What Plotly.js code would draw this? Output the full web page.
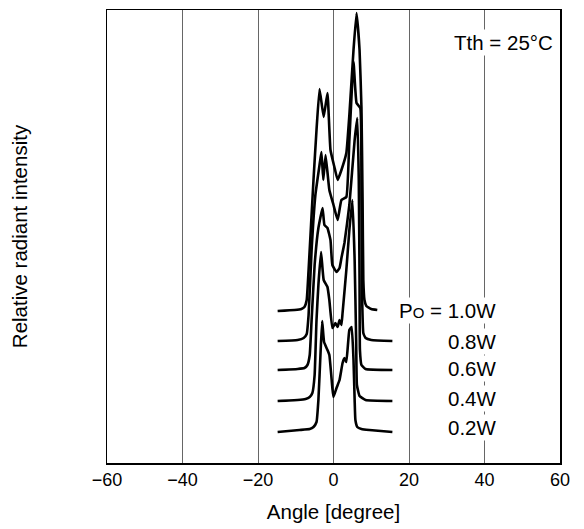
<!DOCTYPE html>
<html>
<head>
<meta charset="utf-8">
<script src="https://cdn.plot.ly/plotly-3.0.1.min.js"></script>
<style>html,body{margin:0;padding:0;background:#fff;}#chart{width:584px;height:529px;}</style>
</head>
<body>
<div id="chart"></div>
<script>
// Angle [degree] and stacked relative intensity (arbitrary units, offset per power level)
const angle10 = [-14.8,-10.3,-8.5,-7.7,-7.1,-6.6,-5.3,-4.5,-3.7,-2.6,-1.6,-0.8,0.3,1.1,2.1,3.4,4.2,5.3,6.1,6.9,7.4,7.7,7.9,8.2,8.7,10.0,11.6];
const inten10 = [152,153,154,156,163,193,283,333,374,346,370,313,295,283,293,310,348,413,450,413,356,263,183,163,157,154,153];

const angle08 = [-14.8,-9.5,-7.9,-7.1,-6.6,-5.8,-4.8,-3.7,-3.2,-2.7,-2.1,-1.1,0,1.1,2.1,3.4,4.2,5.3,6.1,7.1,7.4,7.6,7.9,8.5,10.0,15.6];
const inten08 = [122,123,125,129,148,213,268,298,311,283,308,273,258,243,263,266,323,401,360,355,263,163,130,125,123,122];

const angle06 = [-14.8,-9.5,-7.7,-6.9,-6.3,-5.8,-5.0,-4.0,-2.9,-2.4,-1.6,-0.8,-0.3,0.8,1.6,2.1,2.9,4.2,5.6,6.3,6.7,6.9,7.0,7.4,8.5,15.6];
const inten06 = [93,94,95,98,108,143,198,235,255,238,235,223,198,191,195,205,220,258,323,345,283,183,113,98,94,93];

const angle04 = [-14.8,-9.5,-7.4,-6.3,-5.6,-5.0,-4.5,-4.0,-3.3,-2.6,-1.6,-1.1,-0.3,0.5,1.1,1.6,2.1,2.4,3.4,4.2,5.0,5.6,6.0,6.2,6.9,8.5,15.6];
const inten04 = [62,63,64,66,70,88,143,178,211,183,176,163,135,140,136,143,138,150,193,233,263,203,123,78,67,63,62];

const angle02 = [-14.8,-9.0,-6.3,-5.3,-4.5,-4.0,-3.4,-3.0,-2.5,-1.6,-1.1,-0.3,0,0.8,1.6,2.4,2.9,3.4,4.2,4.8,5.3,5.6,5.8,6.3,7.4,9.5,15.6];
const inten02 = [31,33,34,36,41,63,113,142,121,113,108,75,66,75,83,100,105,101,133,136,103,63,43,36,34,33,31];

const powerLabels = ['P<span style="font-size:15px">O</span> = 1.0W','0.8W','0.6W','0.4W','0.2W'];
const labelLevels = [153,122,95,65,36];
const xTicks = [-60,-40,-20,0,20,40,60];

const series = [[angle10,inten10],[angle08,inten08],[angle06,inten06],[angle04,inten04],[angle02,inten02]];
const traces = series.map(s => ({
  x: s[0], y: s[1], type: 'scatter', mode: 'lines',
  line: {color: '#000', width: 2.6, shape: 'spline', smoothing: 0.35}, hoverinfo: 'skip', showlegend: false
}));

const fam = 'Liberation Sans, Arial, sans-serif';
const tickFont = {family: fam, size: 18, color: '#000'};
const textFont = {family: fam, size: 20.5, color: '#000'};
const annotations = powerLabels.map((t, i) => ({
  x: 43.6, y: labelLevels[i], xref: 'x', yref: 'y', text: t, showarrow: false,
  xanchor: 'right', yanchor: 'middle', bgcolor: '#fff', borderpad: 1, font: textFont
}));
annotations.push({x: 58.6, y: 421, xref: 'x', yref: 'y', text: 'Tth = 25°C', showarrow: false,
  xanchor: 'right', yanchor: 'middle', bgcolor: '#fff', borderpad: 1, font: textFont});

const layout = {
  width: 584, height: 529,
  margin: {l: 107, r: 24, t: 10, b: 66},
  paper_bgcolor: '#fff', plot_bgcolor: '#fff',
  font: textFont,
  xaxis: {
    range: [-60, 60], tickvals: xTicks, ticks: '', showgrid: true,
    gridcolor: '#666', gridwidth: 1, zeroline: false,
    showline: true, mirror: true, linecolor: '#000', linewidth: 1.5,
    tickfont: tickFont, ticklen: 0,
    title: {text: 'Angle [degree]', font: textFont, standoff: 15}
  },
  yaxis: {
    range: [0, 453], showticklabels: false, ticks: '', showgrid: false, zeroline: false,
    showline: true, mirror: true, linecolor: '#000', linewidth: 1.5,
    title: {text: 'Relative radiant intensity', font: textFont, standoff: 72}
  },
  annotations: annotations
};

Plotly.newPlot('chart', traces, layout, {displayModeBar: false, staticPlot: true});
</script>
</body>
</html>
